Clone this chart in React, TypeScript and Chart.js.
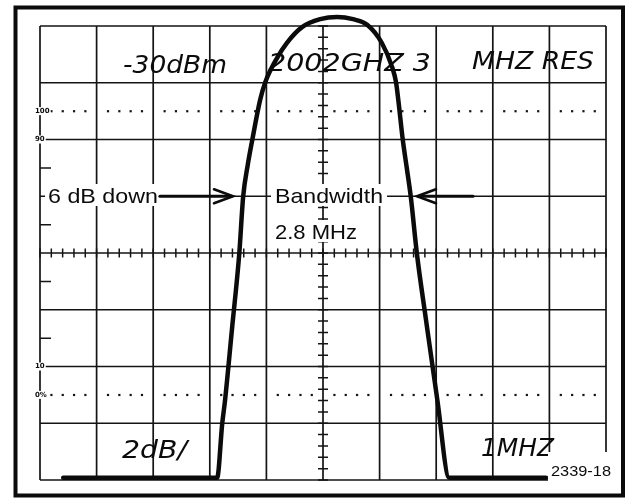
import React, { useEffect, useRef } from "react";
import { Chart, registerables } from "chart.js";

Chart.register(...registerables);

const W = 628;
const H = 498;

// Graticule: 10 horizontal divisions (1 MHz/div), 8 vertical divisions (2 dB/div)
const xDivisions = [0, 1, 2, 3, 4, 5, 6, 7, 8, 9, 10];
const yDivisions = [0, 1, 2, 3, 4, 5, 6, 7, 8];
const dottedLevels = [6.5, 1.5];
const leftTickLevels = [2.5, 3.5, 4.5, 5.5];
const sideLabels = ["100", "90", "10", "0%"];
const sideLabelLevels = [6.5, 6, 2, 1.5];

// Spectrum trace (x in divisions, y in divisions above the bottom line)
const traceX = [0.41, 3.13, 3.22, 3.27, 3.39, 3.52, 3.59, 3.67, 3.75, 3.89, 3.98, 4.19, 4.36, 4.63, 4.95, 5.25, 5.53, 5.78, 6.04, 6.22, 6.29, 6.33, 6.41, 6.48, 6.55, 6.66, 6.82, 7.02, 7.23, 8.94];
const traceY = [0.04, 0.04, 1.0, 1.41, 2.64, 3.98, 5.0, 5.55, 5.99, 6.7, 7.01, 7.44, 7.7, 7.98, 8.12, 8.16, 8.12, 8.02, 7.7, 7.28, 7.01, 6.7, 5.99, 5.5, 5.0, 3.98, 2.82, 1.41, 0.04, 0.04];

// Bandwidth annotation (6 dB down level)
const sixDbLevel = 5;
const leftArrowFrom = 2.12;
const leftArrowTo = 3.41;
const rightArrowFrom = 7.65;
const rightArrowTo = 6.66;

const INK = "#0b0b0b";

function drawFit(ctx: CanvasRenderingContext2D, text: string, x0: number, x1: number, baseline: number, font: string) {
  ctx.font = font;
  const w = ctx.measureText(text).width;
  ctx.save();
  ctx.translate(x0, baseline);
  ctx.scale((x1 - x0) / w, 1);
  ctx.textAlign = "left";
  ctx.textBaseline = "alphabetic";
  ctx.fillText(text, 0, 0);
  ctx.restore();
}

function arrow(ctx: CanvasRenderingContext2D, xFrom: number, xTo: number, y: number) {
  const dir = xTo > xFrom ? 1 : -1;
  ctx.save();
  ctx.strokeStyle = INK;
  ctx.lineWidth = 3.2;
  ctx.lineCap = "round";
  ctx.beginPath();
  ctx.moveTo(xFrom, y);
  ctx.lineTo(xTo - dir * 2, y);
  ctx.stroke();
  ctx.lineWidth = 2.6;
  ctx.beginPath();
  ctx.moveTo(xTo - dir * 19, y - 7);
  ctx.lineTo(xTo, y);
  ctx.lineTo(xTo - dir * 19, y + 7);
  ctx.stroke();
  ctx.restore();
}

const graticulePlugin = {
  id: "graticule",
  beforeDraw(chart: any) {
    const ctx = chart.ctx as CanvasRenderingContext2D;
    ctx.save();
    ctx.fillStyle = "#ffffff";
    ctx.fillRect(0, 0, chart.width, chart.height);
    ctx.restore();
  },
  beforeDatasetsDraw(chart: any) {
    const ctx = chart.ctx as CanvasRenderingContext2D;
    const xs = chart.scales.x;
    const ys = chart.scales.y;
    const px = (v: number) => xs.getPixelForValue(v);
    const py = (v: number) => ys.getPixelForValue(v);
    ctx.save();
    // outer frame
    ctx.strokeStyle = INK;
    ctx.lineWidth = 4;
    ctx.strokeRect(15.5, 7.5, 607.5, 488);

    // major grid
    ctx.lineWidth = 1.7;
    ctx.strokeStyle = "#141414";
    ctx.beginPath();
    xDivisions.forEach((v) => {
      ctx.moveTo(px(v), py(0));
      ctx.lineTo(px(v), py(8));
    });
    yDivisions.forEach((v) => {
      ctx.moveTo(px(0), py(v));
      ctx.lineTo(px(10), py(v));
    });
    ctx.stroke();

    // minor ticks on centre lines (5 per division)
    ctx.lineWidth = 1.5;
    ctx.beginPath();
    for (let i = 0; i <= 50; i++) {
      const x = px(i / 5);
      ctx.moveTo(x, py(4) - 4.5);
      ctx.lineTo(x, py(4) + 4.5);
    }
    for (let i = 0; i <= 40; i++) {
      const y = py(i / 5);
      ctx.moveTo(px(5) - 5, y);
      ctx.lineTo(px(5) + 5, y);
    }
    // half-division ticks on left edge
    leftTickLevels.forEach((v) => {
      ctx.moveTo(px(0), py(v));
      ctx.lineTo(px(0) + 11, py(v));
    });
    ctx.stroke();

    // dotted 100% / 0% lines
    ctx.fillStyle = "#141414";
    dottedLevels.forEach((lv) => {
      for (let i = 1; i < 50; i++) {
        if (i % 5 === 0) continue;
        ctx.fillRect(px(i / 5) - 1, py(lv) - 1, 2.2, 2.2);
      }
    });

    // small side labels
    ctx.font = "bold 7px 'DejaVu Sans'";
    ctx.textBaseline = "middle";
    ctx.textAlign = "left";
    sideLabels.forEach((t, i) => {
      const y = py(sideLabelLevels[i]);
      const w = ctx.measureText(t).width;
      ctx.fillStyle = "#ffffff";
      ctx.fillRect(35, y - 4, w + 1, 8);
      ctx.fillStyle = INK;
      ctx.fillText(t, 35, y);
    });
    ctx.restore();
  },
  afterDatasetsDraw(chart: any) {
    const ctx = chart.ctx as CanvasRenderingContext2D;
    const xs = chart.scales.x;
    const ys = chart.scales.y;
    const px = (v: number) => xs.getPixelForValue(v);
    const py = (v: number) => ys.getPixelForValue(v);
    ctx.save();
    ctx.fillStyle = INK;

    // CRT readout text
    const crt = "italic 24px 'DejaVu Sans'";
    drawFit(ctx, "-30dBm", 123, 227, 73, crt);
    drawFit(ctx, "2002GHZ 3", 268, 431, 71, crt);
    drawFit(ctx, "MHZ RES", 472, 594, 69, crt);
    const crt2 = "italic 25px 'DejaVu Sans'";
    drawFit(ctx, "2dB/", 122, 187, 458, crt2);
    drawFit(ctx, "1MHZ", 481, 554, 456, crt2);

    // bandwidth annotation
    const lbl = "21px 'Liberation Sans', Arial, sans-serif";
    ctx.fillStyle = "#ffffff";
    ctx.fillRect(45, 184, 116, 22);
    ctx.fillRect(271, 184, 116, 22);
    ctx.fillRect(271, 220, 90, 22);
    ctx.fillStyle = INK;
    drawFit(ctx, "6 dB down", 48, 158, 203, lbl);
    drawFit(ctx, "Bandwidth", 275, 383, 203, lbl);
    drawFit(ctx, "2.8 MHz", 275, 357, 239, lbl);

    const yb = py(sixDbLevel);
    arrow(ctx, px(leftArrowFrom), px(leftArrowTo), yb);
    arrow(ctx, px(rightArrowFrom), px(rightArrowTo), yb);

    // figure number
    ctx.fillStyle = "#ffffff";
    ctx.fillRect(548, 452, 68, 33);
    ctx.fillStyle = INK;
    drawFit(ctx, "2339-18", 551, 611, 476, "15px 'Liberation Sans', Arial, sans-serif");
    ctx.restore();
  },
};

export default function App() {
  const ref = useRef<HTMLCanvasElement | null>(null);

  useEffect(() => {
    document.body.style.margin = "0";
    const canvas = ref.current;
    if (!canvas) return;
    const chart = new Chart(canvas, {
      type: "line",
      data: {
        datasets: [
          {
            data: traceX.map((x, i) => ({ x, y: traceY[i] })),
            borderColor: INK,
            borderWidth: 4.5,
            pointRadius: 0,
            borderCapStyle: "round",
            borderJoinStyle: "round",
            cubicInterpolationMode: "monotone",
            fill: false,
            clip: false,
          } as any,
        ],
      },
      options: {
        responsive: false,
        animation: false,
        devicePixelRatio: 1,
        layout: { padding: { left: 40, right: 22, top: 26, bottom: 18 } },
        scales: {
          x: { type: "linear", min: 0, max: 10, display: false },
          y: { type: "linear", min: 0, max: 8, display: false },
        },
        plugins: {
          legend: { display: false },
          tooltip: { enabled: false },
        },
      },
      plugins: [graticulePlugin as any],
    });
    return () => chart.destroy();
  }, []);

  return (
    <div style={{ position: "fixed", left: 0, top: 0, width: W, height: H, background: "#fff" }}>
      <canvas ref={ref} width={W} height={H} style={{ display: "block", width: W, height: H }} />
    </div>
  );
}
